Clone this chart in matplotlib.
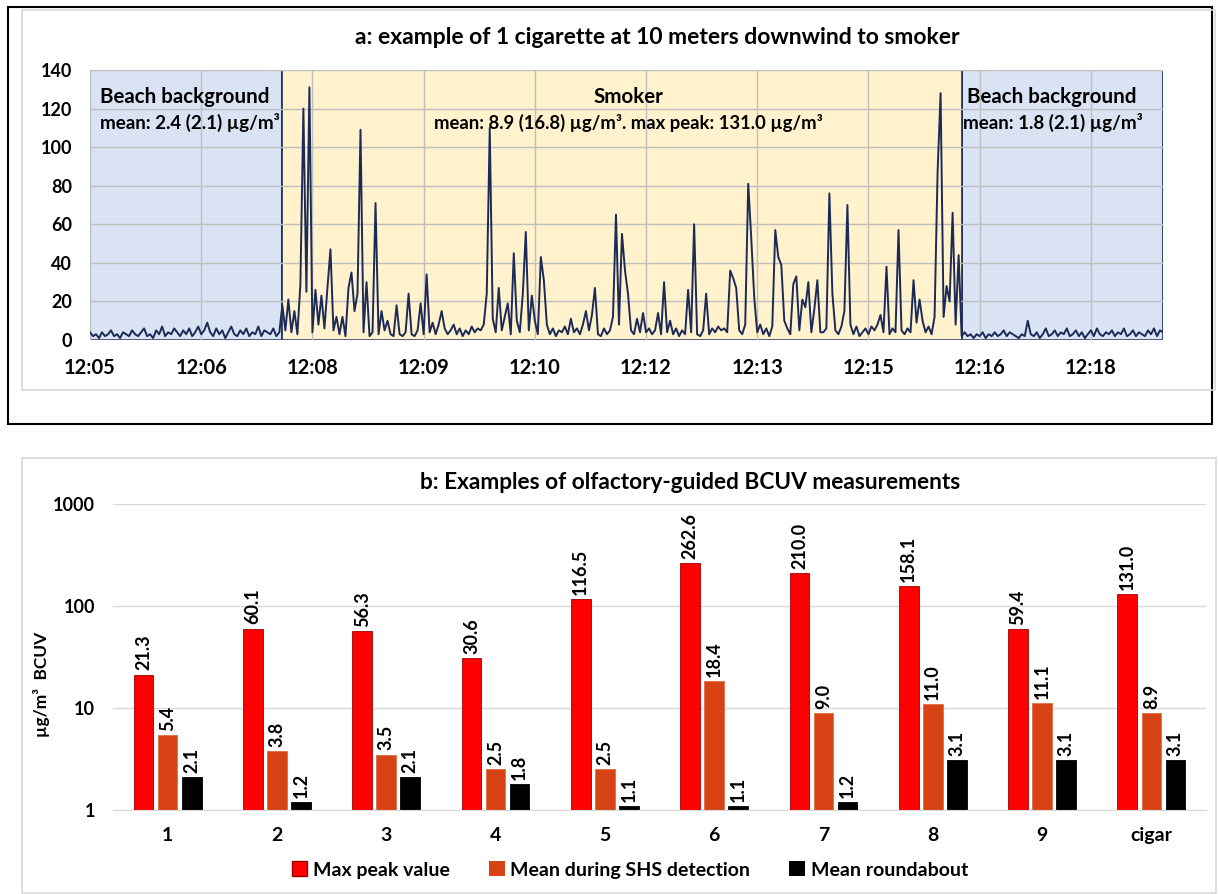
import numpy as np
import matplotlib
matplotlib.use("Agg")
import matplotlib.pyplot as plt
from matplotlib.patches import Rectangle, Patch

plt.rcParams["font.family"] = ["Lato", "DejaVu Sans"]
plt.rcParams["font.weight"] = "bold"

# --- panel a: BCUV trace (one value per sample) ---
bg_left = [4, 2, 3, 1, 4, 2, 3, 5, 2, 3,
           1, 4, 3, 2, 5, 3, 2, 4, 6, 2,
           3, 1, 5, 3, 7, 2, 4, 3, 6, 4,
           2, 5, 3, 6, 2, 4, 7, 3, 5, 9,
           4, 2, 6, 3, 5, 1, 4, 7, 3, 2,
           5, 3, 6, 2, 4, 3, 7, 2, 5, 4,
           3, 6, 2, 4]
smoker = [18, 5, 21, 4, 15, 3, 29, 120, 25, 131,
          4, 26, 8, 23, 6, 27, 47, 5, 12, 3,
          12, 2, 27, 35, 15, 24, 109, 4, 30, 2,
          4, 71, 3, 15, 5, 10, 3, 2, 18, 3,
          2, 4, 24, 3, 2, 5, 19, 3, 34, 4,
          9, 3, 8, 15, 6, 3, 5, 8, 3, 6,
          2, 5, 3, 7, 4, 6, 5, 8, 24, 110,
          11, 4, 27, 5, 12, 19, 3, 45, 10, 4,
          24, 56, 5, 23, 10, 3, 43, 31, 8, 3,
          6, 2, 5, 4, 7, 3, 11, 4, 6, 3,
          8, 15, 5, 13, 27, 3, 2, 6, 3, 5,
          12, 65, 8, 55, 36, 24, 5, 3, 11, 4,
          14, 4, 6, 3, 5, 14, 3, 30, 4, 10,
          3, 6, 2, 5, 3, 26, 4, 60, 3, 2,
          5, 24, 3, 6, 4, 7, 5, 6, 4, 36,
          32, 27, 5, 3, 8, 81, 53, 22, 4, 8,
          3, 6, 2, 7, 57, 43, 39, 10, 6, 3,
          29, 33, 5, 21, 17, 30, 4, 16, 31, 4,
          4, 6, 76, 24, 5, 3, 7, 15, 70, 8,
          3, 7, 2, 4, 6, 3, 7, 5, 8, 13,
          4, 38, 3, 6, 4, 57, 5, 3, 6, 4,
          31, 9, 21, 10, 4, 7, 3, 12, 87, 128,
          12, 28, 20, 66, 8, 44, 2]
bg_right = [4, 2, 3, 1, 3, 2, 4, 1, 3, 2,
            4, 2, 3, 5, 2, 4, 3, 2, 1, 3,
            2, 10, 3, 2, 4, 1, 3, 6, 2, 3,
            5, 2, 4, 3, 6, 2, 3, 5, 2, 4,
            1, 3, 5, 2, 6, 3, 2, 4, 3, 5,
            2, 4, 3, 6, 2, 3, 5, 2, 4, 3,
            2, 5, 3, 6, 2, 5, 4]
time_labels = ["12:05", "12:06", "12:08", "12:09", "12:10",
               "12:12", "12:13", "12:15", "12:16", "12:18"]

# --- panel b: olfactory-guided measurements ---
categories = ["1", "2", "3", "4", "5", "6", "7", "8", "9", "cigar"]
max_peak = [21.3, 60.1, 56.3, 30.6, 116.5, 262.6, 210.0, 158.1, 59.4, 131.0]
mean_shs = [5.4, 3.8, 3.5, 2.5, 2.5, 18.4, 9.0, 11.0, 11.1, 8.9]
mean_round = [2.1, 1.2, 2.1, 1.8, 1.1, 1.1, 1.2, 3.1, 3.1, 3.1]

W, H = 1218, 894
NAVY = "#1B2A57"
BLUE_BG = "#DAE3F3"
YELLOW_BG = "#FFF2CC"
RED = "#FF0000"
ORANGE = "#D84315"


def px_rect(x0, y0, x1, y1):
    return [x0 / W, 1 - y1 / H, (x1 - x0) / W, (y1 - y0) / H]


def frame(x0, y0, x1, y1, color, lw):
    fig.add_artist(Rectangle((x0 / W, 1 - y1 / H), (x1 - x0) / W, (y1 - y0) / H,
                             transform=fig.transFigure, fill=False, ec=color, lw=lw))


fig = plt.figure(figsize=(W / 100, H / 100), dpi=100)
frame(8, 7, 1212, 424, "black", 1.5)
frame(22, 10, 1215, 390, "#D9D9D9", 1.2)
frame(22, 458, 1216, 893, "#D9D9D9", 1.2)

# ---------- panel a ----------
ax = fig.add_axes(px_rect(90, 70, 1163, 340))
series = np.array(bg_left + smoker + bg_right, dtype=float)
x = np.arange(len(series))
s0 = len(bg_left)
s1 = s0 + len(smoker) - 1
n = len(series) - 1

ax.axvspan(0, s0, fc=BLUE_BG, ec=NAVY, lw=1.2, zorder=0.1)
ax.axvspan(s0, s1, fc=YELLOW_BG, ec=NAVY, lw=1.2, zorder=0.2)
ax.axvspan(s1, n, fc=BLUE_BG, ec=NAVY, lw=1.2, zorder=0.1)
ax.plot(x, series, color=NAVY, lw=1.4, zorder=3)

ax.set_xlim(0, n)
ax.set_ylim(0, 140)
ax.set_yticks(np.arange(0, 141, 20))
tick_pos = np.arange(len(time_labels)) * 37
ax.set_xticks(tick_pos)
ax.set_xticklabels(time_labels)
ax.set_axisbelow(True)
ax.grid(True, color="#BFBFBF", lw=1.0)
ax.tick_params(axis="x", length=0, pad=13, labelsize=14.5)
ax.tick_params(axis="y", length=0, pad=13, labelsize=13)
for sp in ax.spines.values():
    sp.set_visible(False)

ax.text(0.009, 0.9, "Beach background", transform=ax.transAxes,
        fontsize=14.8, va="center", ha="left")
ax.text(0.009, 0.805, "mean: 2.4 (2.1) µg/m³", transform=ax.transAxes,
        fontsize=13.5, va="center", ha="left")
ax.text((628 - 90) / 1073, 0.9, "Smoker", transform=ax.transAxes,
        fontsize=14.8, va="center", ha="center")
ax.text((628 - 90) / 1073, 0.805, "mean: 8.9 (16.8) µg/m³. max peak: 131.0 µg/m³",
        transform=ax.transAxes, fontsize=13.3, va="center", ha="center")
ax.text((967 - 90) / 1073, 0.9, "Beach background", transform=ax.transAxes,
        fontsize=14.8, va="center", ha="left")
ax.text((963 - 90) / 1073, 0.805, "mean: 1.8 (2.1) µg/m³", transform=ax.transAxes,
        fontsize=13.5, va="center", ha="left")

fig.text(657 / W, 1 - 38 / H, "a: example of 1 cigarette at 10 meters downwind to smoker",
         ha="center", va="center", fontsize=16.5)

# ---------- panel b ----------
bx = fig.add_axes(px_rect(113, 504, 1206, 810))
idx = np.arange(len(categories))
off, bw = 0.22, 0.18
groups = [(max_peak, -off, RED, "#A00000"),
          (mean_shs, 0.0, ORANGE, "#E07040"),
          (mean_round, off, "black", "black")]
for vals, dx, col, edge in groups:
    bx.bar(idx + dx, vals, bw, color=col, ec=edge, lw=0.6, log=True, zorder=2)
    for xi, v in zip(idx + dx, vals):
        bx.annotate(f"{v:.1f}", (xi, v), xytext=(0, 3), textcoords="offset points",
                    rotation=90, ha="center", va="bottom", fontsize=13)

bx.set_yscale("log")
bx.set_ylim(1, 1000)
bx.set_xlim(-0.5, len(categories) - 0.5)
bx.set_yticks([1, 10, 100, 1000])
bx.set_yticklabels(["1", "10", "100", "1000"])
bx.minorticks_off()
bx.set_xticks(idx)
bx.set_xticklabels(categories)
bx.yaxis.grid(True, color="#D9D9D9", lw=1.0)
bx.set_axisbelow(True)
bx.tick_params(axis="x", length=0, pad=12, labelsize=14)
bx.tick_params(axis="y", length=0, pad=13, labelsize=13)
for name, sp in bx.spines.items():
    sp.set_visible(name == "bottom")
bx.spines["bottom"].set_color("#D9D9D9")

fig.text(42 / W, 1 - 684 / H, "µg/m³  BCUV", rotation=90, ha="center", va="center",
         fontsize=12.5)
fig.text(690 / W, 1 - 482 / H, "b: Examples of olfactory-guided BCUV measurements",
         ha="center", va="center", fontsize=16.3)

handles = [Patch(fc=RED, ec="#A00000"), Patch(fc=ORANGE), Patch(fc="black")]
fig.legend(handles, ["Max peak value", "Mean during SHS detection", "Mean roundabout"],
           loc="center", bbox_to_anchor=(630 / W, 1 - 870 / H), ncol=3, frameon=False,
           fontsize=14, handlelength=0.8, handleheight=0.8, handletextpad=0.3,
           columnspacing=2.0)

fig.savefig("out.png", dpi=100)
